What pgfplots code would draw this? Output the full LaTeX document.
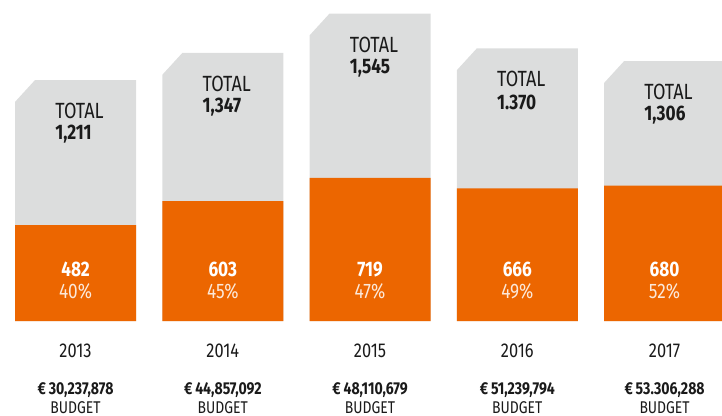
\documentclass[border=0pt]{standalone}
\usepackage{fontspec}
\setmainfont{Fira Sans}[FakeStretch=0.82]
\usepackage{pgfplots}
\pgfplotsset{compat=1.18}

\definecolor{barorange}{RGB}{236,102,0}
\definecolor{bargrey}{RGB}{220,221,221}
\definecolor{txt}{RGB}{26,26,26}

\begin{document}
\begin{tikzpicture}
  \begin{axis}[
      name=main,
      scale only axis,
      width=361pt, height=208pt,
      xmin=-0.513, xmax=4.39,
      ymin=-477, ymax=1613,
      hide axis,
      clip=true,
    ]
    % grey totals, top-left corner cut
    \addplot[fill=bargrey, draw=none] coordinates {(-0.411,0) (-0.411,1101) (-0.275,1211) (0.411,1211) (0.411,0)} -- cycle;
    \addplot[fill=bargrey, draw=none] coordinates {(0.589,0) (0.589,1237) (0.725,1347) (1.411,1347) (1.411,0)} -- cycle;
    \addplot[fill=bargrey, draw=none] coordinates {(1.589,0) (1.589,1435) (1.725,1545) (2.411,1545) (2.411,0)} -- cycle;
    \addplot[fill=bargrey, draw=none] coordinates {(2.589,0) (2.589,1260) (2.725,1370) (3.411,1370) (3.411,0)} -- cycle;
    \addplot[fill=bargrey, draw=none] coordinates {(3.589,0) (3.589,1196) (3.725,1306) (4.39,1306) (4.39,0)} -- cycle;

    % orange part
    \addplot[ybar, bar width=0.822, fill=barorange, draw=none]
      coordinates {(0,482) (1,603) (2,719) (3,666) (4,680)};

    % labels
    \foreach \x/\t/\n/\c/\p/\yr/\b in {
        0/1211/{1,211}/482/40/2013/{30,237,878},
        1/1347/{1,347}/603/45/2014/{44,857,092},
        2/1545/{1,545}/719/47/2015/{48,110,679},
        3/1370/{1.370}/666/49/2016/{51,239,794},
        4/1306/{1,306}/680/52/2017/{53.306,288}} {
      \edef\temp{\noexpand\node[txt, inner sep=0pt, font=\noexpand\fontsize{11}{12}\noexpand\selectfont, anchor=center]
        at (axis cs:\x+0.027,\t-156) {TOTAL};
      \noexpand\node[txt, inner sep=0pt, font=\noexpand\fontsize{10.5}{12}\noexpand\selectfont\noexpand\bfseries, anchor=west]
        at (axis cs:\x-0.14,\t-272) {\n};
      \noexpand\node[white, inner sep=0pt, font=\noexpand\fontsize{10.5}{12}\noexpand\selectfont\noexpand\bfseries]
        at (axis cs:\x,261) {\c};
      \noexpand\node[white!85!barorange, inner sep=0pt, font=\noexpand\fontsize{10.5}{12}\noexpand\selectfont]
        at (axis cs:\x,151) {\p\noexpand\%};
      \noexpand\node[txt, font=\noexpand\fontsize{10}{12}\noexpand\selectfont]
        at (axis cs:\x,-151) {\yr};
      \noexpand\node[txt, inner sep=0pt, font=\noexpand\fontsize{8.6}{10}\noexpand\selectfont\noexpand\bfseries]
        at (axis cs:\x,-347) {\noexpand\texteuro\noexpand\,\b};
      \noexpand\node[txt, inner sep=0pt, font=\noexpand\fontsize{8.5}{10}\noexpand\selectfont]
        at (axis cs:\x,-437) {BUDGET};}
      \temp
    }
  \end{axis}
  \pgfresetboundingbox
  \path (main.south west) rectangle (main.north east);
\end{tikzpicture}
\end{document}
